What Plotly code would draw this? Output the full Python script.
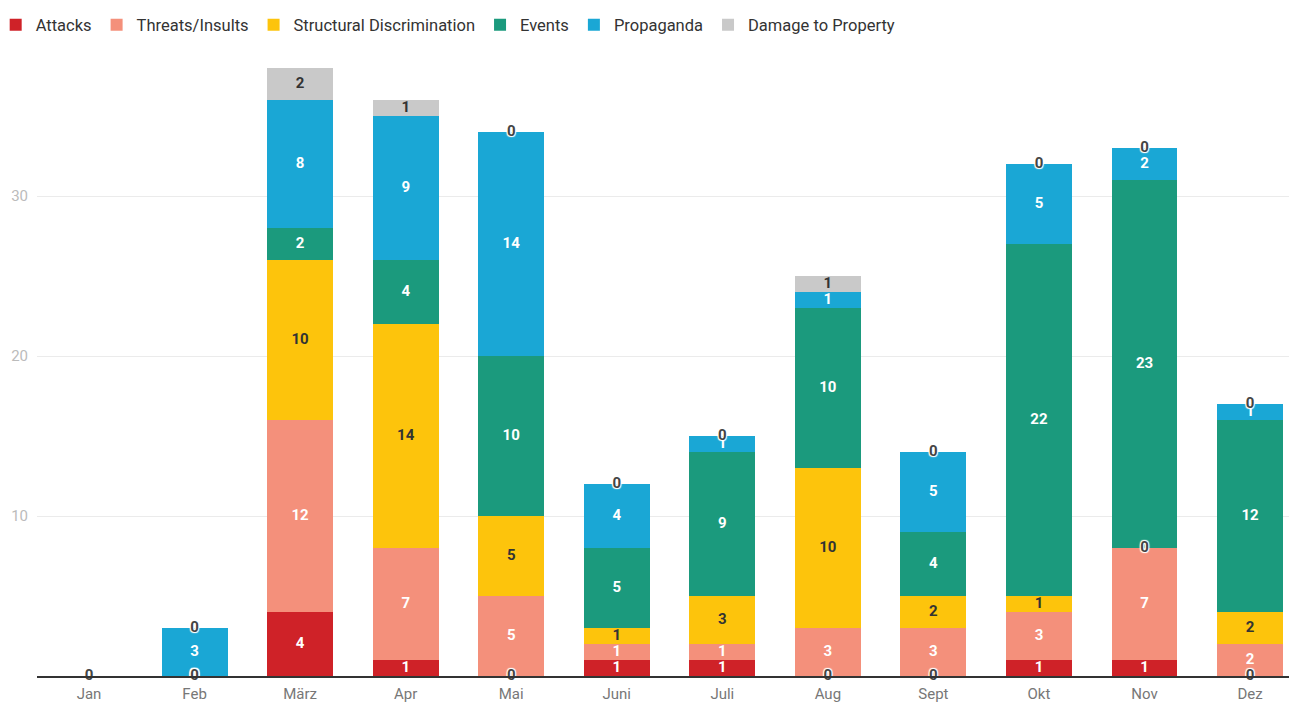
import plotly.graph_objects as go
import numpy as np

months = ["Jan", "Feb", "März", "Apr", "Mai", "Juni", "Juli", "Aug", "Sept", "Okt", "Nov", "Dez"]
attacks = [0, 0, 4, 1, 0, 1, 1, 0, 0, 1, 1, 0]
threats = [0, 0, 12, 7, 5, 1, 1, 3, 3, 3, 7, 2]
structural = [0, 0, 10, 14, 5, 1, 3, 10, 2, 1, 0, 2]
events = [0, 0, 2, 4, 10, 5, 9, 10, 4, 22, 23, 12]
propaganda = [0, 3, 8, 9, 14, 4, 1, 1, 5, 5, 2, 1]
damage = [0, 0, 2, 1, 0, 0, 0, 1, 0, 0, 0, 0]

series = [
    ("Attacks", attacks, "#cf2228", "white"),
    ("Threats/Insults", threats, "#f4907b", "white"),
    ("Structural Discrimination", structural, "#fdc40c", "#333333"),
    ("Events", events, "#1b9a7d", "white"),
    ("Propaganda", propaganda, "#1aa7d5", "white"),
    ("Damage to Property", damage, "#c9c9c9", "#333333"),
]

FONT = "Roboto, Arial, sans-serif"
fig = go.Figure()
for name, vals, col, _ in series:
    fig.add_trace(go.Bar(name=name, x=months, y=vals, marker=dict(color=col, line=dict(width=0)),
                         hoverinfo="x+y+name"))

# labels
base = np.zeros(len(months))
zx, zy = [], []
for name, vals, col, tcol in series:
    v = np.array(vals, dtype=float)
    mid = base + v / 2
    nz = v > 0
    fig.add_trace(go.Scatter(x=[m for m, k in zip(months, nz) if k], y=mid[nz],
                             text=[str(int(a)) for a in v[nz]], mode="text",
                             textposition="middle center",
                             textfont=dict(family=FONT, size=15, color=tcol, weight="bold"),
                             showlegend=False, hoverinfo="skip"))
    for m, k, y in zip(months, nz, mid):
        if not k:
            zx.append(m)
            zy.append(y)
    base = base + v

fig.add_trace(go.Scatter(x=zx, y=zy, text=["0"] * len(zx), mode="text",
                         textposition="middle center",
                         textfont=dict(family=FONT, size=15, color="#444444", weight="bold",
                                       shadow="1px 1px 1px #fff, -1px -1px 1px #fff, 1px -1px 1px #fff, -1px 1px 1px #fff"),
                         showlegend=False, hoverinfo="skip", cliponaxis=False))

fig.update_layout(
    barmode="stack",
    bargap=0.375,
    width=1289, height=702,
    margin=dict(l=37, r=0, t=36, b=26, autoexpand=False),
    paper_bgcolor="white", plot_bgcolor="white",
    font=dict(family=FONT, size=15, color="#333"),
    legend=dict(orientation="h", x=-0.033, xanchor="left", y=1.017, yanchor="middle",
                font=dict(family=FONT, size=16.5, color="#333"), traceorder="normal",
                itemwidth=30, tracegroupgap=0),
    xaxis=dict(range=[-0.493, 11.369], showgrid=False, ticks="", showline=True,
               linecolor="#333", linewidth=1.5, automargin=False, ticklabelstandoff=3,
               tickfont=dict(family=FONT, size=15, color="#777")),
    yaxis=dict(range=[0, 40], tickvals=[10, 20, 30], showgrid=True, gridcolor="#ebebeb",
               gridwidth=1, zeroline=False, ticks="", automargin=False, ticklabelstandoff=8,
               tickfont=dict(family=FONT, size=15, color="#bbbbbb")),
)

fig.write_html("out.html", config={"displayModeBar": False},
               post_script="document.body.style.margin='0';document.body.style.overflow='hidden';")
